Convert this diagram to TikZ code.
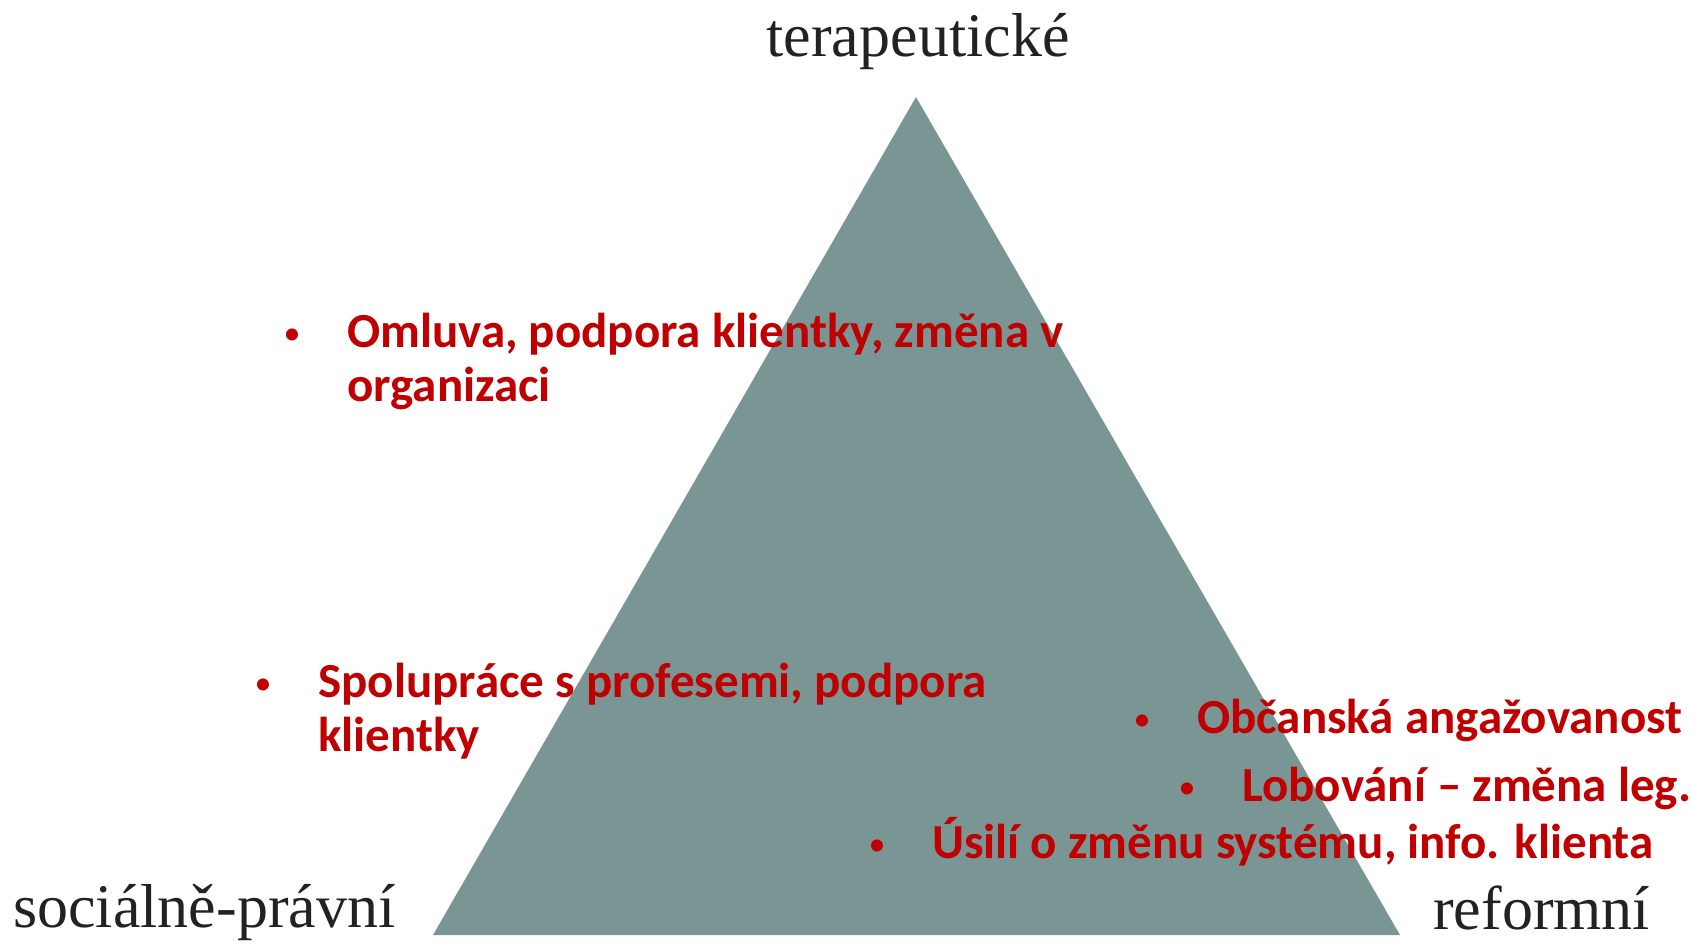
\documentclass[tikz,border=0pt]{standalone}
\usepackage{fontspec}
\newfontfamily\labfont{Liberation Serif}
\newfontfamily\itemfont{Carlito}
\definecolor{trigray}{HTML}{7A9694}
\definecolor{itemred}{HTML}{C00000}
\definecolor{labgray}{HTML}{222222}
\tikzset{
  corner label/.style={inner sep=0pt, anchor=base west, text=labgray, font=\labfont\fontsize{62}{70}\selectfont},
  bullet item/.style={inner sep=0pt, anchor=base west, text=itemred, font=\itemfont\bfseries\fontsize{49}{54}\selectfont},
  tri fill/.style={fill=trigray}
}
\newcommand{\bul}{\makebox[110pt][c]{\raisebox{3pt}{\fontsize{34}{34}\selectfont\mdseries •}}}
\begin{document}
\begin{tikzpicture}[x=1pt,y=-1pt]
\useasboundingbox (0,0) rectangle (1692,944);
% triangle
\coordinate (bl) at (433,935);
\coordinate (br) at (1400,935);
\coordinate (ap) at (916,97);
\fill[tri fill] (bl) -- (br) -- (ap) -- cycle;
% corner labels
\node[corner label, anchor=base] (ter) at (918,57) {terapeutické};
\node[corner label] (soc) at (13,927) {sociálně-právní};
\node[corner label] (ref) at (1433,929) {reformní};
% items
\node[bullet item] (i1) at (237,347) {\bul\begin{tabular}[t]{@{}l@{}}Omluva, podpora klientky, změna v\\organizaci\end{tabular}};
\node[bullet item] (i2) at (208,697) {\bul\begin{tabular}[t]{@{}l@{}}Spolupráce s profesemi, podpora\\klientky\end{tabular}};
\node[bullet item] (i3) at (1087,733) {\bul Občanská angažovanost};
\node[bullet item] (i4) at (1132,801) {\bul Lobování – změna leg.};
\node[bullet item] (i5) at (822,858) {\bul Úsilí o změnu systému, info. klienta};
\end{tikzpicture}
\end{document}
